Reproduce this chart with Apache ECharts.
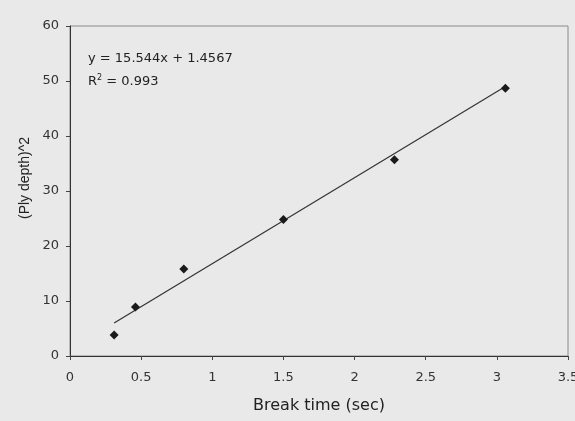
<!DOCTYPE html>
<html><head><meta charset="utf-8">
<script src="https://cdn.jsdelivr.net/npm/echarts@6/dist/echarts.min.js"></script>
<style>html,body{margin:0;padding:0;background:#e9e9e9;}#c{width:575px;height:421px;}</style>
</head><body><div id="c"></div>
<script>
const breakTime = [0.31, 0.46, 0.80, 1.50, 2.28, 3.06];
const plyDepthSq = [3.8, 8.9, 15.8, 24.8, 35.7, 48.7];
const trendX = [0.31, 3.06];
const trendY = [6.0, 49.0];
const xTicks = [0, 0.5, 1, 1.5, 2, 2.5, 3, 3.5];
const yTicks = [0, 10, 20, 30, 40, 50, 60];
const eqText = 'y = 15.544x + 1.4567';
const r2Rich = '{n|R}{s|2}{n| = 0.993}';
const xName = 'Break time (sec)';
const yName = '(Ply depth)^2';

const chart = echarts.init(document.getElementById('c'));
const font = '"DejaVu Sans", sans-serif';
chart.setOption({
  backgroundColor: '#e9e9e9',
  animation: false,
  grid: {left: 70, right: 7, top: 26, bottom: 65, containLabel: false, outerBoundsMode: 'none',
         show: true, borderColor: '#8a8a8a', borderWidth: 1, backgroundColor: 'transparent'},
  xAxis: {
    type: 'value', min: 0, max: 3.5, interval: 0.5,
    name: xName, nameLocation: 'middle', nameGap: 42,
    nameTextStyle: {fontFamily: font, fontSize: 16, color: '#222'},
    axisLine: {lineStyle: {color: '#333', width: 1}},
    axisTick: {show: true, length: 4, lineStyle: {color: '#444'}},
    axisLabel: {fontFamily: font, fontSize: 13, color: '#333', margin: 15,
      formatter: v => xTicks.includes(v) ? String(v) : ''},
    splitLine: {show: false}
  },
  yAxis: {
    type: 'value', min: 0, max: 60, interval: 10,
    axisLine: {show: true, lineStyle: {color: '#333', width: 1}},
    axisTick: {show: true, length: 4, lineStyle: {color: '#444'}},
    axisLabel: {fontFamily: font, fontSize: 13, color: '#333', margin: 11,
      formatter: v => yTicks.includes(v) ? String(v) : ''},
    splitLine: {show: false}
  },
  graphic: [
    {type: 'text', left: 88, top: 52, style: {text: eqText, font: '13px "DejaVu Sans", sans-serif', fill: '#222'}},
    {type: 'text', left: 88, top: 74, style: {text: r2Rich, fill: '#222',
      rich: {n: {fontFamily: font, fontSize: 13, color: '#222'},
             s: {fontFamily: font, fontSize: 8, color: '#222', verticalAlign: 'top', padding: [0,0,8,0]}}}},
    {type: 'text', x: 25, y: 178, rotation: Math.PI / 2,
      style: {text: yName, font: '14px "Liberation Sans", Arial, sans-serif', fill: '#222', align: 'center', verticalAlign: 'middle'}}
  ],
  series: [
    {type: 'line', data: trendX.map((x, i) => [x, trendY[i]]), symbol: 'none',
     lineStyle: {color: '#333', width: 1.2}, z: 2},
    {type: 'scatter', data: breakTime.map((x, i) => [x, plyDepthSq[i]]), symbol: 'diamond', symbolSize: 9,
     itemStyle: {color: '#1a1a1a', opacity: 1}, z: 3}
  ]
});
</script></body></html>
